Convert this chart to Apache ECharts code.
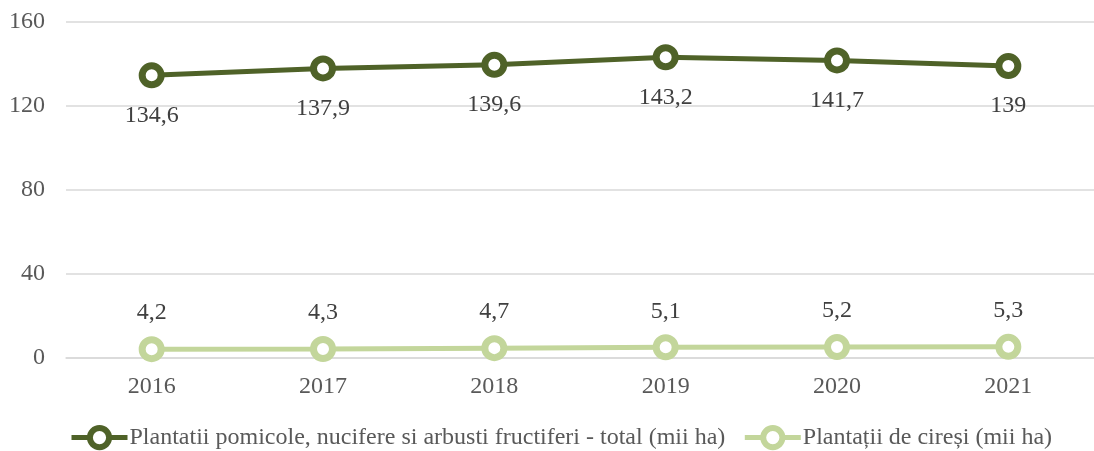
<!DOCTYPE html>
<html><head><meta charset="utf-8">
<script src="https://cdn.jsdelivr.net/npm/echarts@6/dist/echarts.min.js"></script>
<style>html,body{margin:0;padding:0;background:#fff}#c{width:1094px;height:451px}</style>
</head><body><div id="c"></div>
<script>
const categories = ['2016','2017','2018','2019','2020','2021'];
const totalName = 'Plantatii pomicole, nucifere si arbusti fructiferi - total (mii ha)';
const totalValues = [134.6, 137.9, 139.6, 143.2, 141.7, 139];
const cherryName = 'Plantații de cireși (mii ha)';
const cherryValues = [4.2, 4.3, 4.7, 5.1, 5.2, 5.3];
const yTicks = {min: 0, max: 160, interval: 40};

const font = '"Liberation Serif", "Times New Roman", serif';
const fmt = p => String(p.value).replace('.', ',');
const chart = echarts.init(document.getElementById('c'));
chart.setOption({
  animation: false,
  textStyle: {fontFamily: font},
  grid: {left: 66, top: 22, width: 1037, height: 336, containLabel: false},
  xAxis: {
    type: 'category', data: categories, boundaryGap: true,
    axisLine: {lineStyle: {color: '#d9d9d9', width: 1.5}},
    axisTick: {show: false},
    axisLabel: {color: '#595959', fontFamily: font, fontSize: 24, margin: 17}
  },
  yAxis: {
    type: 'value', min: yTicks.min, max: yTicks.max, interval: yTicks.interval,
    axisLine: {show: false}, axisTick: {show: false},
    splitLine: {lineStyle: {color: '#d9d9d9', width: 1.5}},
    axisLabel: {color: '#595959', fontFamily: font, fontSize: 24, margin: 21}
  },
  legend: {
    top: 420, left: 64, itemWidth: 56, itemHeight: 24, itemGap: 17,
    textStyle: {color: '#595959', fontFamily: font, fontSize: 24, padding: [0,0,0,-3]},
    lineStyle: {width: 5},
    itemStyle: {borderWidth: 6},
    data: [totalName, cherryName]
  },
  series: [
    {
      name: totalName, type: 'line', data: totalValues,
      symbol: 'circle', symbolSize: 19,
      lineStyle: {color: '#4f6228', width: 5},
      itemStyle: {color: '#ffffff', borderColor: '#4f6228', borderWidth: 7},
      label: {show: true, position: 'bottom', distance: 15, formatter: fmt, color: '#404040', fontFamily: font, fontSize: 24}
    },
    {
      name: cherryName, type: 'line', data: cherryValues,
      symbol: 'circle', symbolSize: 19,
      lineStyle: {color: '#c3d69b', width: 5},
      itemStyle: {color: '#ffffff', borderColor: '#c3d69b', borderWidth: 7},
      label: {show: true, position: 'top', distance: 11, formatter: fmt, color: '#404040', fontFamily: font, fontSize: 24}
    }
  ]
});
</script></body></html>
